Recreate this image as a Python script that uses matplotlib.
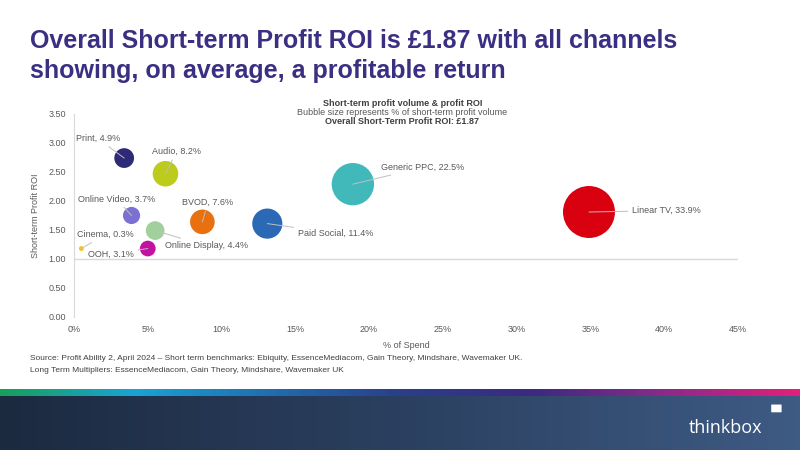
import numpy as np
import matplotlib.pyplot as plt
from matplotlib.colors import LinearSegmentedColormap
from matplotlib.patches import FancyBboxPatch

plt.rcParams['font.family'] = ['Liberation Sans', 'DejaVu Sans']

channels = ["Print", "Audio", "Online Video", "Online Display", "Cinema", "OOH",
            "BVOD", "Paid Social", "Generic PPC", "Linear TV"]
spend_pct = [3.4, 6.2, 3.9, 5.5, 0.5, 5.0, 8.7, 13.1, 18.9, 34.9]
roi = [2.74, 2.47, 1.75, 1.49, 1.18, 1.18, 1.64, 1.61, 2.29, 1.81]
profit_vol = [4.9, 8.2, 3.7, 4.4, 0.3, 3.1, 7.6, 11.4, 22.5, 33.9]

colors = ["#2f2a78", "#bccb1c", "#7c70d2", "#a2d09c", "#f0c428", "#c2129f",
          "#e8700f", "#2b68b6", "#41b9bb", "#d9000f"]
# label offsets in points (dx, dy) and alignment
label_pos = [(-3, 14, "right"), (8, 16, "center"), (-11, 12, "center"),
             (7, -11, "left"), (17, 10, "center"), (-10, -4, "right"),
             (4, 14, "center"), (22, -7, "left"), (20, 12, "left"), (31, 1, "left")]

fig = plt.figure(figsize=(8, 4.5), dpi=100)
fig.patch.set_facecolor("white")

ax = fig.add_axes([0.0925, 0.2956, 0.83, 0.4511])
ax.set_xlim(0, 45)
ax.set_ylim(0, 3.5)

sizes = [v * 41.3 for v in profit_vol]
ax.scatter(spend_pct, roi, s=sizes, c=colors, zorder=3, linewidths=0)

for name, x, y, v, (dx, dy, ha) in zip(channels, spend_pct, roi, profit_vol, label_pos):
    ax.annotate(f"{name}, {v}%", xy=(x, y), xytext=(dx, dy), textcoords="offset points",
                ha=ha, va="center", fontsize=6.5, color="#595959",
                arrowprops=dict(arrowstyle="-", color="#bfbfbf", lw=0.7, shrinkA=1, shrinkB=0),
                zorder=4)

ax.axhline(1.0, color="#d9d9d9", lw=1, zorder=1)
for s in ["top", "right", "bottom"]:
    ax.spines[s].set_visible(False)
ax.spines["left"].set_color("#d9d9d9")
ax.set_xticks(np.arange(0, 46, 5))
ax.set_xticklabels([f"{t}%" for t in range(0, 46, 5)])
ax.set_yticks(np.arange(0, 3.51, 0.5))
ax.set_yticklabels([f"{t:.2f}" for t in np.arange(0, 3.51, 0.5)])
ax.tick_params(length=0, labelsize=6.5, labelcolor="#595959", pad=6)
ax.set_ylabel("Short-term Profit ROI", fontsize=6.5, color="#595959", labelpad=6)
ax.set_xlabel("% of Spend", fontsize=6.5, color="#595959", labelpad=5)

# chart titles
fig.text(0.503, 0.771, "Short-term profit volume & profit ROI", ha="center", va="center",
         fontsize=6.5, fontweight="bold", color="#404040")
fig.text(0.503, 0.751, "Bubble size represents % of short-term profit volume", ha="center",
         va="center", fontsize=6.5, color="#595959")
fig.text(0.503, 0.731, "Overall Short-Term Profit ROI: \u00a31.87", ha="center", va="center",
         fontsize=6.5, fontweight="bold", color="#404040")

# slide title
fig.text(0.038, 0.876, "Overall Short-term Profit ROI is \u00a31.87 with all channels\n"
         "showing, on average, a profitable return", ha="left", va="center",
         fontsize=18, fontweight="bold", color="#3a2f82", linespacing=1.3)

# source
fig.text(0.038, 0.190, "Source: Profit Ability 2, April 2024 \u2013 Short term benchmarks: Ebiquity, "
         "EssenceMediacom, Gain Theory, Mindshare, Wavemaker UK.\n"
         "Long Term Multipliers: EssenceMediacom, Gain Theory, Mindshare, Wavemaker UK",
         ha="left", va="center", fontsize=6, color="#404040", linespacing=2.0)

# footer gradient strip
strip = fig.add_axes([0, 0.12, 1, 0.016])
strip_cmap = LinearSegmentedColormap.from_list(
    "strip", ["#17a05a", "#1aa3d6", "#1f6fb0", "#2a3f8a", "#3b2a80", "#8a2a8a", "#e0207a"])
strip.imshow(np.linspace(0, 1, 400)[None, :], aspect="auto", cmap=strip_cmap, extent=[0, 1, 0, 1])
strip.axis("off")

band = fig.add_axes([0, 0, 1, 0.12])
band_cmap = LinearSegmentedColormap.from_list("band", ["#1c2a40", "#2b4060", "#3e5b84"])
band.imshow(np.linspace(0, 1, 400)[None, :], aspect="auto", cmap=band_cmap, extent=[0, 1, 0, 1])
band.set_xlim(0, 1)
band.set_ylim(0, 1)
band.axis("off")
band.text(0.953, 0.4, "thinkbox", ha="right", va="center", fontsize=13, color="white",
          family=["Open Sans", "DejaVu Sans"])
band.add_patch(FancyBboxPatch((0.966, 0.7), 0.009, 0.14, boxstyle="round,pad=0.002",
                              fc="white", ec="none"))

fig.savefig("out.png", dpi=100)
